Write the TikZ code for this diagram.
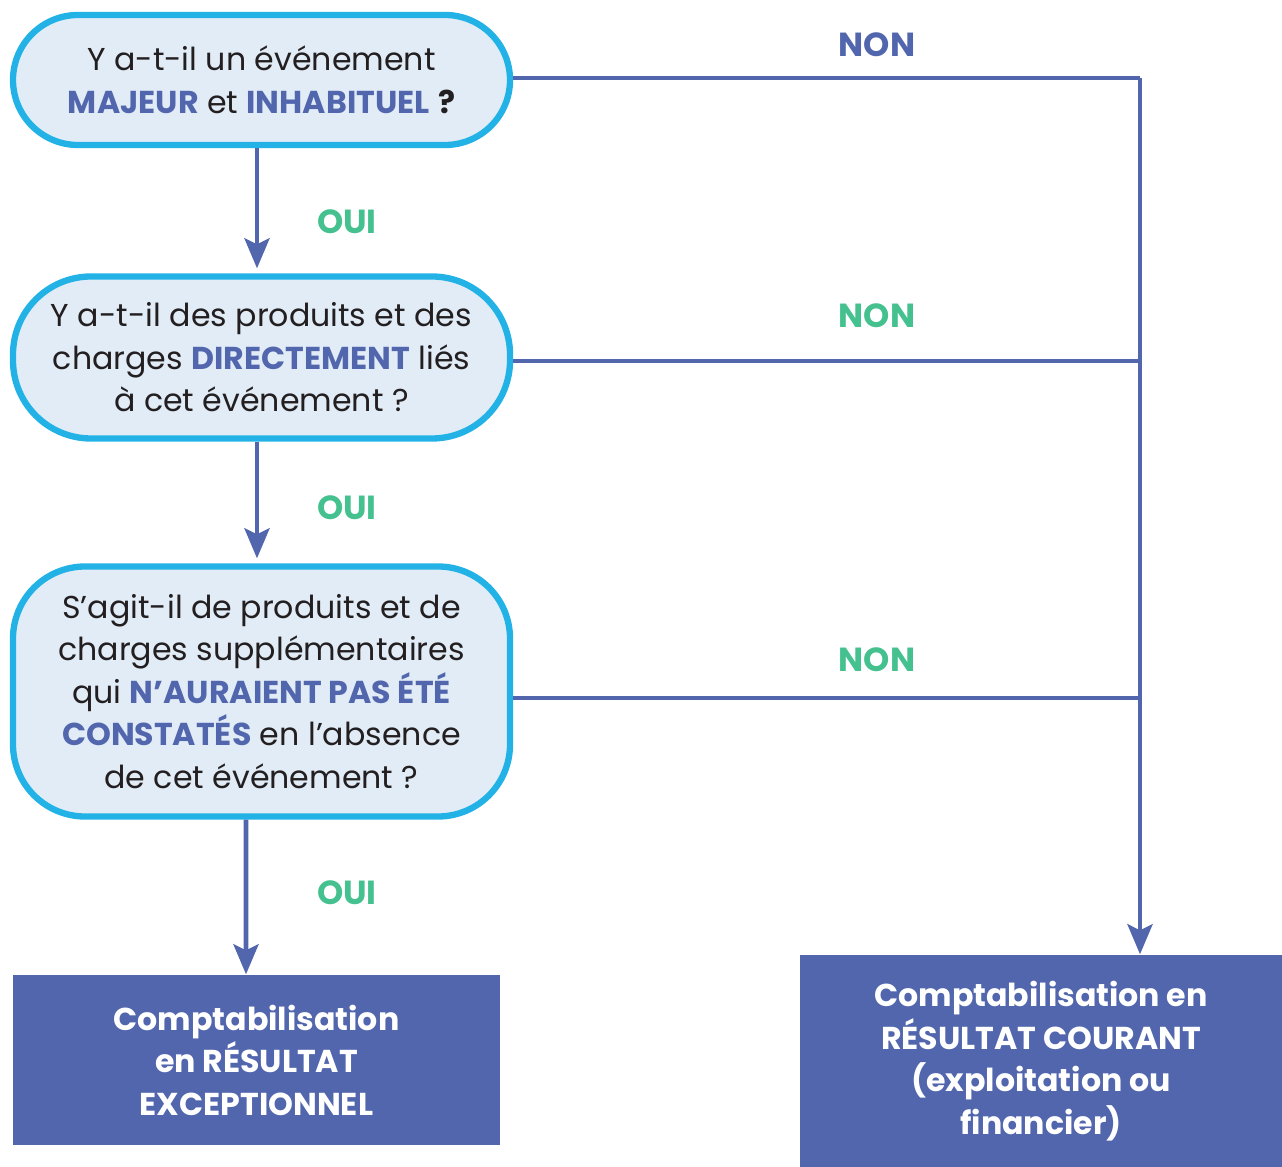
\documentclass[tikz,border=0pt]{standalone}
\usepackage{fontspec}
\setmainfont{Poppins}
\usepackage{tikz}
\usetikzlibrary{calc}
\usetikzlibrary{positioning}
\usetikzlibrary{arrows.meta}

\definecolor{cyanline}{HTML}{22B2E6}
\definecolor{paleblue}{HTML}{E1ECF7}
\definecolor{navy}{HTML}{5266AE}
\definecolor{mint}{HTML}{45C08F}
\definecolor{ink}{HTML}{231F20}

\newcommand{\hl}[1]{\textbf{\color{navy}#1}}

\begin{document}
\begin{tikzpicture}[
		question/.style={draw=cyanline, line width=1.8pt, fill=paleblue, text=ink,
			minimum width=4.97cm, align=center, inner sep=0pt,
			font=\fontsize{9}{12.1}\selectfont},
		result/.style={fill=navy, text=white, align=center, inner sep=0pt,
			font=\fontsize{9}{12.1}\selectfont\bfseries},
		link/.style={draw=navy, line width=1.4pt},
		arrowed/.style={link, -{Stealth[length=0.3cm, width=0.25cm, inset=0.06cm]}},
		yes/.style={text=mint, font=\fontsize{9.5}{11}\selectfont\bfseries},
		no/.style={text=mint, font=\fontsize{9.5}{11}\selectfont\bfseries}
	]
			\useasboundingbox (0,0) rectangle (12.82,-11.67);

			\node[question, minimum height=1.30cm, rounded corners=0.65cm] (q1) at (2.615,-0.80)
				{Y a-t-il un événement\\ \hl{MAJEUR} et \hl{INHABITUEL} \textbf{?}};
			\node[question, minimum height=1.62cm, rounded corners=0.78cm] (q2) at (2.615,-3.575)
				{Y a-t-il des produits et des\\ charges \hl{DIRECTEMENT} liés\\ à cet événement ?};
			\node[question, minimum height=2.50cm, rounded corners=0.72cm] (q3) at (2.615,-6.915)
				{S’agit-il de produits et de\\ charges supplémentaires\\ qui \hl{N’AURAIENT PAS ÉTÉ}\\ \hl{CONSTATÉS} en l’absence\\ de cet événement ?};

			\node[result, minimum width=4.87cm, minimum height=1.70cm] (r1) at (2.565,-10.60)
				{Comptabilisation\\ en RÉSULTAT\\ EXCEPTIONNEL};
			\node[result, minimum width=4.82cm, minimum height=2.12cm] (r2) at (10.41,-10.61)
				{Comptabilisation en\\ RÉSULTAT COURANT\\ (exploitation ou\\ financier)};

			\coordinate (bus) at (11.40,-0.78);

			\path[arrowed] ([xshift=-0.045cm]q1.south) -- ([xshift=-0.045cm,yshift=0.05cm]q2.north);
			\path[arrowed] ([xshift=-0.045cm]q2.south) -- ([xshift=-0.045cm,yshift=0.05cm]q3.north);
			\path[arrowed] ([xshift=-0.155cm]q3.south) -- ([xshift=-0.105cm]r1.north);

			\path[link] (q1.east |- bus) -- (bus);
			\path[arrowed] (bus) -- (bus |- r2.north);
			\path[link] ([yshift=-0.035cm]q2.east) -- ([yshift=-0.035cm]q2.east -| bus);
			\path[link] ([yshift=-0.065cm]q3.east) -- ([yshift=-0.065cm]q3.east -| bus);

			\node[yes] (oui1) at (3.47,-2.22) {OUI};
			\node[yes] (oui2) at (3.47,-5.08) {OUI};
			\node[yes] (oui3) at (3.47,-8.93) {OUI};

			\node[no, text=navy] (non1) at (8.77,-0.45) {NON};
			\node[no] (non2) at (8.77,-3.16) {NON};
			\node[no] (non3) at (8.77,-6.60) {NON};
        \end{tikzpicture}
\end{document}
